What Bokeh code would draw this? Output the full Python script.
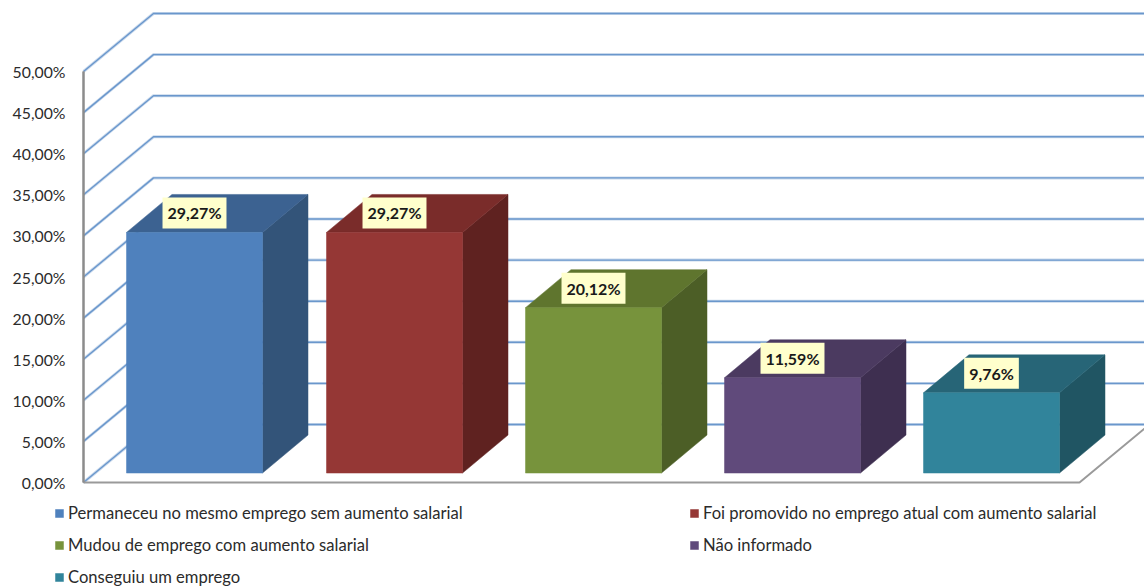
from bokeh.core.properties import value
from bokeh.embed import file_html
from bokeh.models import FixedTicker, Legend, LegendItem, LinearAxis, Range1d
from bokeh.plotting import figure
from bokeh.resources import INLINE

# Survey shares, in percent
categories = [
    "Permaneceu no mesmo emprego sem aumento salarial",
    "Foi promovido no emprego atual com aumento salarial",
    "Mudou de emprego com aumento salarial",
    "Não informado",
    "Conseguiu um emprego",
]
shares = [29.27, 29.27, 20.12, 11.59, 9.76]
share_labels = ["29,27%", "29,27%", "20,12%", "11,59%", "9,76%"]
tick_values = [0, 5, 10, 15, 20, 25, 30, 35, 40, 45, 50]
tick_labels = {t: f"{t},00%" for t in tick_values}

front_colors = ["#4f81bd", "#953735", "#77933c", "#604a7b", "#31849b"]
side_colors = ["#335479", "#5f2220", "#4c5e26", "#3e2f50", "#205563"]
top_colors = ["#3c6291", "#7a2c2a", "#5f752e", "#4b3a60", "#276577"]

# Horizontal scale is in page pixels; vertical scale is in percent
PX_PER_PCT = 8.22
FONT = "Lato"
bar_lefts = [126, 326, 525, 724, 923]
BAR_WIDTH = 136
BAR_BASE = 1.15          # bars stand slightly in front of the floor edge
BAR_DEPTH_X = 45.5
BAR_DEPTH_Y = 38 / PX_PER_PCT
WALL_X0 = 83
WALL_DEPTH_X = 70
WALL_DEPTH_Y = 58 / PX_PER_PCT
FLOOR_END = 1079

p = figure(
    width=1144, height=587, output_backend="svg", toolbar_location=None,
    x_range=Range1d(0, 1144),
    y_range=Range1d(-105 / PX_PER_PCT, 482 / PX_PER_PCT),
    x_axis_location=None, y_axis_location=None,
    min_border_left=0, min_border_right=0, min_border_top=0, min_border_bottom=0,
)
p.grid.visible = False
p.outline_line_color = None

# Value axis on the front edge of the left wall
axis = LinearAxis(
    fixed_location=WALL_X0,
    ticker=FixedTicker(ticks=tick_values),
    major_label_overrides=tick_labels,
    bounds=(0, 50),
    axis_line_color="#8c8c8c", axis_line_width=2,
    major_tick_line_color=None, minor_tick_line_color=None,
    major_label_standoff=12,
    major_label_text_font=FONT, major_label_text_font_size="15.8px",
    major_label_text_color="#2b2b2b",
)
p.add_layout(axis, "left")

# Gridlines run up the left wall and then along the back wall
grid_xs = [[WALL_X0, WALL_X0 + WALL_DEPTH_X, 1144] for _ in tick_values]
grid_ys = [[t, t + WALL_DEPTH_Y, t + WALL_DEPTH_Y] for t in tick_values]
p.multi_line(grid_xs, grid_ys, line_color="#c9d9ec", line_width=3)
p.multi_line(grid_xs, grid_ys, line_color="#6a97cc", line_width=1.4)

# Left wall edge and floor outline
p.line([WALL_X0, WALL_X0], [tick_values[0], tick_values[-1]],
       line_color="#8c8c8c", line_width=2)
p.line([WALL_X0, FLOOR_END, FLOOR_END + 80], [0, 0, 80 * WALL_DEPTH_Y / WALL_DEPTH_X],
       line_color="#9a9a9a", line_width=2)

legend_items = []
for i, share in enumerate(shares):
    x0 = bar_lefts[i]
    x1 = x0 + BAR_WIDTH
    y0 = BAR_BASE
    y1 = BAR_BASE + share
    p.patch([x1, x1 + BAR_DEPTH_X, x1 + BAR_DEPTH_X, x1],
            [y0, y0 + BAR_DEPTH_Y, y1 + BAR_DEPTH_Y, y1],
            fill_color=side_colors[i], line_color=side_colors[i], line_width=0.5)
    p.patch([x0, x1, x1 + BAR_DEPTH_X, x0 + BAR_DEPTH_X],
            [y1, y1, y1 + BAR_DEPTH_Y, y1 + BAR_DEPTH_Y],
            fill_color=top_colors[i], line_color=top_colors[i], line_width=0.5)
    bar = p.vbar(x=[x0 + BAR_WIDTH / 2], width=BAR_WIDTH, bottom=[y0], top=[y1],
                 fill_color=front_colors[i], line_color=front_colors[i], line_width=0.5)
    legend_items.append(LegendItem(label=categories[i], renderers=[bar]))
    p.text([x0 + BAR_WIDTH / 2], [y1 + 19.5 / PX_PER_PCT], text=[share_labels[i]],
           text_align="center", text_baseline="middle",
           text_font=value(FONT), text_font_size="16px", text_font_style="bold",
           text_color="#1a1a1a",
           background_fill_color="#ffffcc", padding=(5, 6))


def make_legend(items, location):
    return Legend(
        items=items, location=location, orientation="vertical",
        background_fill_alpha=0, border_line_color=None,
        padding=0, margin=0, spacing=12,
        glyph_width=10, glyph_height=10, label_standoff=4, label_height=20,
        label_text_font=FONT, label_text_font_size="16.6px", label_text_color="#2b2b2b",
    )


p.add_layout(make_legend(legend_items[0::2], (54, 0)))
p.add_layout(make_legend(legend_items[1::2], (689, 32)))

open("out.html", "w").write(file_html(p, INLINE))
